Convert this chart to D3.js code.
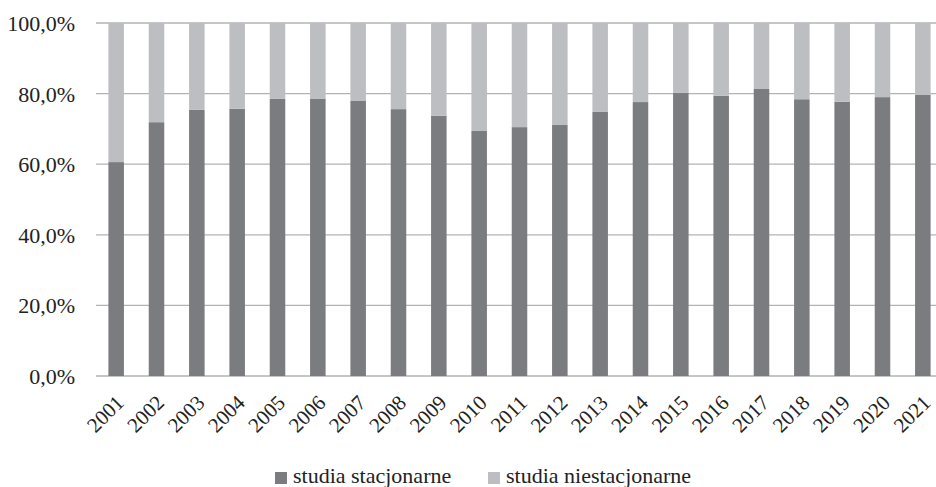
<!DOCTYPE html>
<html><head><meta charset="utf-8">
<script src="https://cdn.jsdelivr.net/npm/d3@7"></script>
<style>
html,body{margin:0;padding:0;background:#fff;}
svg{display:block;}
</style></head>
<body>
<svg id="chart" width="936" height="487"></svg>
<script>
const years = ["2001","2002","2003","2004","2005","2006","2007","2008","2009","2010","2011","2012","2013","2014","2015","2016","2017","2018","2019","2020","2021"];
const stacjonarne = [60.6,71.9,75.4,75.7,78.5,78.6,77.9,75.6,73.7,69.4,70.5,71.1,74.8,77.6,80.2,79.4,81.3,78.4,77.7,79.0,79.6];
const niestacjonarne = stacjonarne.map(v => +(100 - v).toFixed(1));
const seriesNames = ["studia stacjonarne","studia niestacjonarne"];
const yTicks = [0,20,40,60,80,100];

(function(){
const colors = ["#7b7c80","#bdbec2"];
const FONT = "'Liberation Serif', 'Times New Roman', 'DejaVu Serif', serif";
const svg = d3.select("#chart").attr("font-family", FONT).style("font-family", FONT);
const pLeft = 96, pRight = 943, pTop = 23, pBottom = 376;

const x = d3.scaleBand().domain(years).range([pLeft, pRight]).paddingInner(0.615).paddingOuter(0.3075);
const y = d3.scaleLinear().domain([0,100]).range([pBottom, pTop]);

// gridlines
svg.append("g").selectAll("line").data(yTicks).join("line")
  .attr("x1", pLeft).attr("x2", pRight)
  .attr("y1", d => y(d)).attr("y2", d => y(d))
  .attr("stroke", "#b3b3b3").attr("stroke-width", 1.3);

const rows = years.map((yr,i) => ({year: yr, s: stacjonarne[i], n: niestacjonarne[i]}));
const stack = d3.stack().keys(["s","n"])(rows);
svg.append("g").selectAll("g").data(stack).join("g")
  .attr("fill", (d,i) => colors[i])
  .selectAll("rect").data(d => d).join("rect")
  .attr("x", d => x(d.data.year))
  .attr("width", x.bandwidth())
  .attr("y", d => y(d[1]))
  .attr("height", d => y(d[0]) - y(d[1]));

// y axis labels
svg.append("g").selectAll("text").data(yTicks).join("text")
  .attr("x", 75).attr("y", d => y(d) + 8)
  .attr("text-anchor", "end")
  .attr("font-size", 22)
  .attr("fill", "#222")
  .style("font-family", FONT)
  .text(d => d.toFixed(1).replace(".", ",") + "%");

// x axis labels
svg.append("g").selectAll("text").data(years).join("text")
  .attr("transform", d => `translate(${x(d) + x.bandwidth()/2 + 9},${pBottom + 28}) rotate(-45)`)
  .attr("text-anchor", "end")
  .attr("font-size", 21)
  .attr("fill", "#222")
  .style("font-family", FONT)
  .text(d => d);

// legend
const legendItems = [{name: seriesNames[0], x: 275}, {name: seriesNames[1], x: 488}];
const lg = svg.append("g");
legendItems.forEach((it, i) => {
  lg.append("rect").attr("x", it.x).attr("y", 472).attr("width", 12).attr("height", 12).attr("fill", colors[i]);
  lg.append("text").attr("x", it.x + 18).attr("y", 483).attr("font-size", 22)
    .attr("fill", "#222").style("font-family", FONT).text(it.name);
});
})();
</script>
</body></html>
